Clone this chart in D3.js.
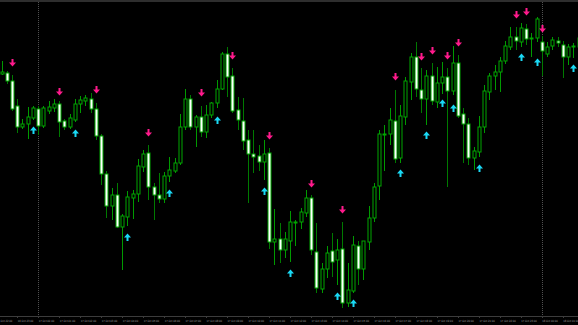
<!DOCTYPE html>
<html>
<head>
<meta charset="utf-8">
<script src="https://cdn.jsdelivr.net/npm/d3@7"></script>
<style>
  html, body { margin: 0; padding: 0; background: #000; }
  svg { display: block; }
</style>
</head>
<body>
<svg id="chart" width="578" height="325"></svg>
<script>
// M15 candles, prices in points
let opens = [256,257,249,224,203,206,212,221,204,219, 222,226,209,203,210,226,229,231,221,194,
  156,124,135,103,113,132,136,163,177,143, 135,131,154,159,167,203,231,203,213,198,
  215,227,241,276,254,220,209,190,176,174, 168,177,88,91,80,89,107,108,117,132,
  78,41,61,79,70,81,27,39,84,61, 88,112,144,195,196,209,172,213,248,273,
  240,231,254,228,247,253,239,267,216,206, 172,178,203,238,254,258,269,283,293,288,
  301,291,292,288,276,284,289,285,273,283, 283];
let highs = [269,259,255,231,211,223,224,224,224,229, 231,229,211,216,231,234,235,237,227,196,
  159,142,147,116,139,140,171,180,185,147, 157,158,173,172,216,241,235,215,224,225,
  228,250,278,283,262,233,232,200,200,185, 190,182,121,107,98,119,110,122,140,135,
  107,67,84,97,91,108,67,94,89,89, 124,147,200,205,222,240,225,253,277,288,
  262,260,267,263,268,262,284,275,222,212, 183,214,245,257,265,273,289,303,303,307,
  306,297,313,294,288,293,293,289,286,287, 294];
let lows = [255,246,219,197,201,191,210,195,202,216, 218,193,200,201,208,217,224,217,190,145,
  112,110,102,60,104,111,128,158,130,110, 127,127,148,157,165,200,200,183,193,192,
  212,222,240,233,217,200,180,127,157,159, 150,81,65,67,72,68,84,101,113,75,
  37,37,52,53,45,22,23,37,45,50, 80,108,130,159,185,167,167,205,230,233,
  217,205,225,222,236,143,235,212,167,165, 160,173,197,230,240,238,266,280,280,283,
  285,273,288,254,273,280,283,252,265,272, 280];
let closes = [258,249,221,203,206,213,222,204,222,223, 226,208,203,212,226,230,232,221,194,156,
  124,135,103,114,133,136,164,176,143,135, 131,154,160,167,203,231,203,213,198,215,
  227,241,276,253,219,210,189,176,173,168, 176,88,91,80,91,108,108,118,132,80,
  42,61,77,68,80,27,40,85,61,89, 112,143,196,196,210,171,214,249,273,241,
  231,254,229,247,253,239,267,214,206,172, 179,203,239,254,258,269,284,293,289,302,
  291,292,311,279,283,290,287,273,283,284, 292];

// indicator arrows: bar index and price level
let downIdx = [2,11,18,28,38,44,51,59,65,75,80,82,85,87,98,100,103];
let downVal = [267,238,240,197,237,274,194,146,120,253,273,279,274,287,315,318,301];
let upIdx = [6,14,24,32,41,50,55,64,67,76,81,84,86,91,99,102,109];
let upVal = [200,197,93,137,210,139,57,34,27,157,195,227,222,162,273,268,262];

// time axis
let tickIdx = d3.range(-1, 108, 4);
let tickText = ["16 Oct 22:00","16 Oct 23:00","17 Oct 00:00","17 Oct 01:00","17 Oct 02:00",
  "17 Oct 03:00","17 Oct 04:00","17 Oct 05:00","17 Oct 06:00","17 Oct 07:00","17 Oct 08:00",
  "17 Oct 09:00","17 Oct 10:00","17 Oct 11:00","17 Oct 12:00","17 Oct 13:00","17 Oct 14:00",
  "17 Oct 15:00","17 Oct 16:00","17 Oct 17:00","17 Oct 18:00","17 Oct 19:00","17 Oct 20:00",
  "17 Oct 21:00","17 Oct 22:00","17 Oct 23:00","18 Oct 00:00","18 Oct 01:00"];
let separators = [7, 103];

let candles = opens.map((o, i) => ({
  i: i, open: o, high: highs[i], low: lows[i], close: closes[i]
}));

function render() {
  let svg = d3.select("#chart");
  let width = 578, height = 325;
  let plotBottom = 316;

  let xScale = d3.scaleLinear().domain([0, 110]).range([1.5, 578.56]);
  let yScale = d3.scaleLinear().domain([0, 330]).range([330, 0]);
  let px = i => Math.round(xScale(i));

  svg.append("rect")
    .attr("width", width).attr("height", height)
    .attr("fill", "#000");

  // top border
  svg.append("rect")
    .attr("x", 0).attr("y", 0)
    .attr("width", width).attr("height", 2)
    .attr("fill", "#2e2e2e");

  // day separators
  svg.selectAll(".sep")
    .data(separators)
    .enter()
    .append("line")
    .attr("x1", d => px(d) + 0.5)
    .attr("x2", d => px(d) + 0.5)
    .attr("y1", 2)
    .attr("y2", plotBottom)
    .attr("stroke", "#505050")
    .attr("stroke-dasharray", "1,1");

  // wicks
  svg.selectAll(".wick")
    .data(candles)
    .enter()
    .append("line")
    .attr("x1", d => px(d.i) + 0.5)
    .attr("x2", d => px(d.i) + 0.5)
    .attr("y1", d => yScale(d.high))
    .attr("y2", d => yScale(d.low))
    .attr("stroke", d => d.close < d.open ? "#007a00" : "#009a00")
    .attr("stroke-width", 1);

  // bodies
  svg.selectAll(".body")
    .data(candles)
    .enter()
    .append("rect")
    .attr("x", d => px(d.i) - 1)
    .attr("y", d => yScale(Math.max(d.open, d.close)))
    .attr("width", 3)
    .attr("height", d => Math.max(0.6, Math.abs(yScale(d.open) - yScale(d.close))))
    .attr("fill", d => d.close < d.open ? "#ffffff" : "#000000")
    .attr("stroke", "#00a800")
    .attr("stroke-width", 1);

  // arrows
  let downPath = "M-1,-4 L1,-4 L1,-0.5 L3.5,-0.5 L0,3.5 L-3.5,-0.5 L-1,-0.5 Z";
  let upPath = "M-1,4 L1,4 L1,0.5 L3.5,0.5 L0,-3.5 L-3.5,0.5 L-1,0.5 Z";

  svg.selectAll(".down-arrow")
    .data(downIdx)
    .enter()
    .append("path")
    .attr("d", downPath)
    .attr("transform", (d, k) => "translate(" + (px(d) + 0.5) + "," + yScale(downVal[k]) + ")")
    .attr("fill", "#ff1a8c");

  svg.selectAll(".up-arrow")
    .data(upIdx)
    .enter()
    .append("path")
    .attr("d", upPath)
    .attr("transform", (d, k) => "translate(" + (px(d) + 0.5) + "," + yScale(upVal[k]) + ")")
    .attr("fill", "#1ad9f5");

  // time axis
  svg.append("line")
    .attr("x1", 0).attr("x2", width)
    .attr("y1", plotBottom + 0.5).attr("y2", plotBottom + 0.5)
    .attr("stroke", "#3c3c3c");

  svg.selectAll(".tick")
    .data(tickIdx)
    .enter()
    .append("line")
    .attr("x1", d => px(d) + 0.5)
    .attr("x2", d => px(d) + 0.5)
    .attr("y1", plotBottom)
    .attr("y2", plotBottom + 2)
    .attr("stroke", "#3c3c3c");

  svg.selectAll(".tlabel")
    .data(tickIdx)
    .enter()
    .append("text")
    .attr("x", d => xScale(d) + 0.5)
    .attr("y", 322)
    .attr("font-family", "DejaVu Sans")
    .attr("font-size", "2.9px")
    .attr("fill", "#a0a0a0")
    .attr("textLength", 15.5)
    .attr("lengthAdjust", "spacingAndGlyphs")
    .text((d, k) => tickText[k]);
}

render();
</script>
</body>
</html>
